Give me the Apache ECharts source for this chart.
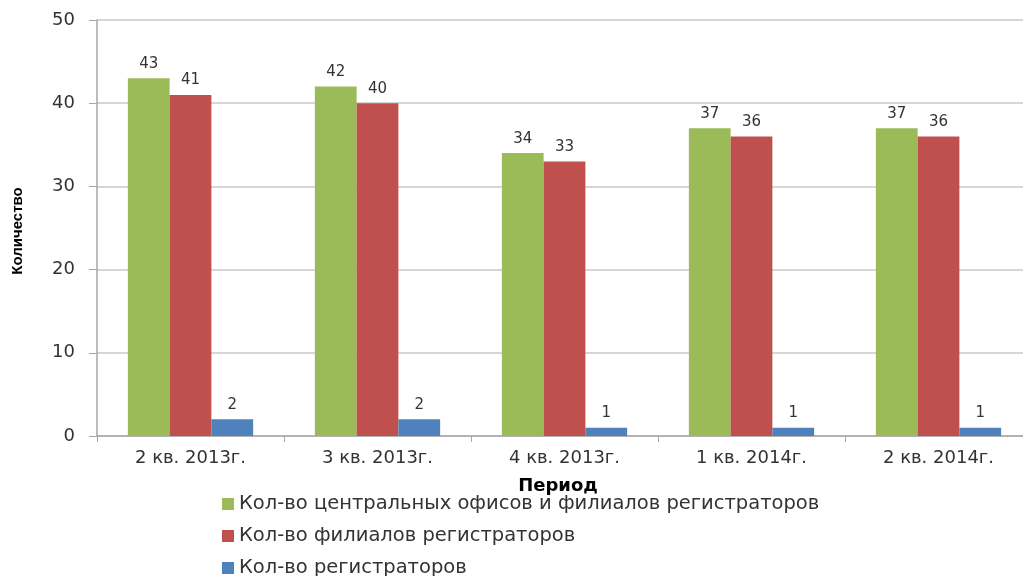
<!DOCTYPE html>
<html><head><meta charset="utf-8">
<script src="https://cdn.jsdelivr.net/npm/echarts@6/dist/echarts.min.js"></script>
<style>html,body{margin:0;padding:0;background:#fff;overflow:hidden;width:1023px;height:576px}#c{width:1032px;height:600px}</style>
</head><body><div id="c"></div>
<script>
const categories = ['2 кв. 2013г.', '3 кв. 2013г.', '4 кв. 2013г.', '1 кв. 2014г.', '2 кв. 2014г.'];
const seriesNames = ['Кол-во центральных офисов и филиалов регистраторов', 'Кол-во филиалов регистраторов', 'Кол-во регистраторов'];
const centralAndBranches = [43, 42, 34, 37, 37];
const branches = [41, 40, 33, 36, 36];
const registrars = [2, 2, 1, 1, 1];
const colors = ['#9BBB59', '#C0504D', '#4F81BD'];
const font = 'Verdana, "DejaVu Sans", sans-serif';

const chart = echarts.init(document.getElementById('c'));
const mk = (name, data, color) => ({
  name, type: 'bar', data, barGap: '0%', barCategoryGap: '33%',
  itemStyle: { color },
  label: { show: true, position: 'top', distance: 7, color: '#333', fontFamily: font, fontSize: 15 }
});
chart.setOption({
  animation: false,
  grid: { left: 97, right: 0, top: 20, bottom: 164 },
  xAxis: {
    type: 'category', data: categories,
    axisLine: { lineStyle: { color: '#a6a6a6', width: 1.5 } },
    axisTick: { show: true, length: 6, lineStyle: { color: '#a6a6a6' } },
    axisLabel: { color: '#333', fontFamily: font, fontSize: 18, margin: 13 }
  },
  yAxis: {
    type: 'value', min: 0, max: 50, interval: 10,
    axisLine: { show: true, lineStyle: { color: '#a6a6a6', width: 1.5 } },
    axisTick: { show: true, length: 8, lineStyle: { color: '#a6a6a6' } },
    splitLine: { lineStyle: { color: '#c8c8c8', width: 1.5 } },
    axisLabel: { color: '#333', fontFamily: font, fontSize: 18, margin: 22 }
  },
  legend: {
    orient: 'vertical', left: 222, top: 494, padding: 0, itemWidth: 12, itemHeight: 12, itemGap: 12,
    icon: 'rect',
    textStyle: { color: '#333', fontFamily: font, fontSize: 19.5 }
  },
  graphic: [
    { type: 'text', x: 558, y: 486, style: { text: 'Период', textAlign: 'center', textVerticalAlign: 'middle', font: 'bold 18px Verdana, "DejaVu Sans", sans-serif', fill: '#000' } },
    { type: 'text', x: 18, y: 231, rotation: Math.PI / 2, style: { text: 'Количество', textAlign: 'center', textVerticalAlign: 'middle', font: 'bold 15px "Liberation Sans Narrow", "Liberation Sans"', fill: '#000' } }
  ],
  series: [
    mk(seriesNames[0], centralAndBranches, colors[0]),
    mk(seriesNames[1], branches, colors[1]),
    mk(seriesNames[2], registrars, colors[2])
  ]
});
</script></body></html>
